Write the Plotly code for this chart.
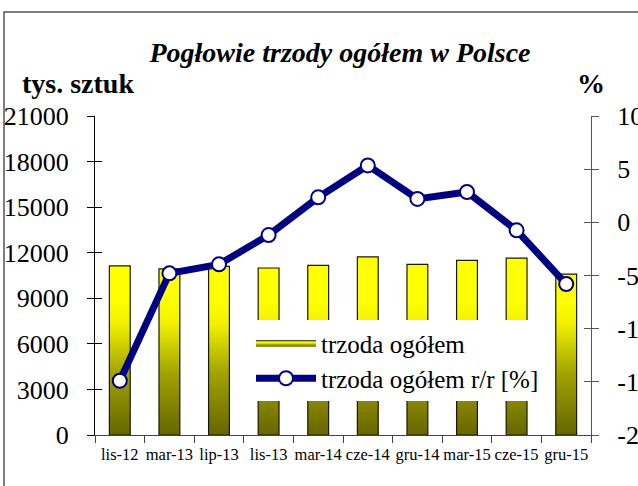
import plotly.graph_objects as go

# Pig herd size in Poland (thousand head) and year-on-year change (%)
categories = ["lis-12", "mar-13", "lip-13", "lis-13", "mar-14",
              "cze-14", "gru-14", "mar-15", "cze-15", "gru-15"]
herd_total = [11132, 10940, 11100, 10994, 11170, 11724, 11230, 11500, 11638, 10590]
herd_yoy = [-14.9, -4.8, -3.95, -1.2, 2.35, 5.35, 2.2, 2.85, -0.75, -5.8]

left_ticks = [0, 3000, 6000, 9000, 12000, 15000, 18000, 21000]
right_ticks = [-20, -15, -10, -5, 0, 5, 10]

SERIF = "'Liberation Serif', 'Times New Roman', Times, serif"
W, H = 638, 486
ML, MR, MT, MB = 95, 47, 116, 51
PW, PH = W - ML - MR, H - MT - MB


def px_x(p):
    return (p - ML) / PW


def px_y(p):
    return (H - MB - p) / PH


# Bars drawn as filled rectangles so they can carry a vertical gradient
half = 0.21
bx, by = [], []
for i, v in enumerate(herd_total):
    bx += [i - half, i + half, i + half, i - half, i - half, None]
    by += [0, 0, v, v, 0, None]

fig = go.Figure()

fig.add_trace(go.Scatter(
    x=bx, y=by, mode="lines", fill="toself",
    line=dict(color="#1a1a00", width=1.2),
    fillgradient=dict(
        type="vertical", start=0, stop=max(herd_total),
        colorscale=[[0, "#666600"], [0.35, "#a3a300"], [0.62, "#f0f000"], [0.75, "#ffff00"], [1, "#ffff00"]],
    ),
    name="trzoda ogółem", hoverinfo="skip",
    xaxis="x", yaxis="y",
))

fig.add_trace(go.Scatter(
    x=list(range(len(categories))), y=herd_yoy, mode="lines+markers",
    line=dict(color="#000080", width=7),
    marker=dict(symbol="circle", size=14, color="white", line=dict(color="#000080", width=2)),
    name="trzoda ogółem r/r [%]",
    xaxis="x", yaxis="y2",
))

# Empty helper traces so the overlay axes (labels / inner tick halves) get drawn
fig.add_trace(go.Scatter(x=[None], y=[None], xaxis="x3", yaxis="y3",
                         showlegend=False, hoverinfo="skip"))
fig.add_trace(go.Scatter(x=[None], y=[None], xaxis="x3", yaxis="y4",
                         showlegend=False, hoverinfo="skip"))

xr = [-0.5, len(categories) - 0.5]
tick_font = dict(family=SERIF, size=26, color="black")

fig.update_layout(
    width=W, height=H,
    margin=dict(l=ML, r=MR, t=MT, b=MB, autoexpand=False),
    paper_bgcolor="white", plot_bgcolor="white",
    font=dict(family=SERIF, color="black"),
    title=dict(
        text="<b><i>Pogłowie trzody ogółem w Polsce</i></b>",
        font=dict(family=SERIF, size=28, color="black"),
        x=340 / W, xanchor="center", xref="container",
        y=1 - 52 / H, yanchor="middle",
    ),
    xaxis=dict(
        range=xr, tickmode="array",
        tickvals=[i - 0.5 for i in range(len(categories) + 1)],
        ticktext=[""] * (len(categories) + 1),
        ticks="outside", ticklen=7, tickcolor="#444", tickwidth=1.2,
        showline=True, linecolor="#444", linewidth=1.2,
        showgrid=False, zeroline=False, automargin=False,
    ),
    xaxis3=dict(
        range=xr, overlaying="x", anchor="y", side="bottom",
        tickmode="array", tickvals=list(range(len(categories))), ticktext=categories,
        tickfont=dict(family=SERIF, size=16.5, color="black"),
        ticks="", ticklabelstandoff=7,
        showline=False, showgrid=False, zeroline=False, automargin=False,
    ),
    yaxis=dict(
        range=[0, 21000], tickmode="array", tickvals=left_ticks,
        ticktext=[str(v) for v in left_ticks],
        tickfont=tick_font, ticks="outside", ticklen=7, tickcolor="black", tickwidth=1.2,
        ticklabelstandoff=13,
        showline=True, linecolor="black", linewidth=1.2,
        showgrid=False, zeroline=False, automargin=False,
    ),
    yaxis3=dict(
        range=[0, 21000], overlaying="y", anchor="x", side="left",
        tickmode="array", tickvals=left_ticks, showticklabels=False,
        ticks="inside", ticklen=7, tickcolor="black", tickwidth=1.2,
        showline=False, showgrid=False, zeroline=False, automargin=False,
    ),
    yaxis2=dict(
        range=[-20, 10], overlaying="y", anchor="x", side="right",
        tickmode="array", tickvals=right_ticks, ticktext=[str(v) for v in right_ticks],
        tickfont=tick_font, ticks="outside", ticklen=7, tickcolor="#555", tickwidth=1.2,
        ticklabelstandoff=13,
        showline=True, linecolor="#555", linewidth=1.2,
        showgrid=False, zeroline=False, automargin=False,
    ),
    yaxis4=dict(
        range=[-20, 10], overlaying="y", anchor="x", side="right",
        tickmode="array", tickvals=right_ticks, showticklabels=False,
        ticks="inside", ticklen=7, tickcolor="#555", tickwidth=1.2,
        showline=False, showgrid=False, zeroline=False, automargin=False,
    ),
    legend=dict(
        x=px_x(251), y=px_y(320), xanchor="left", yanchor="top",
        bgcolor="white", borderwidth=0,
        font=dict(family=SERIF, size=25, color="black"),
        itemwidth=60, tracegroupgap=0,
    ),
    showlegend=True,
)

# Axis unit labels
fig.add_annotation(text="<b>tys. sztuk</b>", xref="paper", yref="paper",
                   x=px_x(20), y=px_y(83), xanchor="left", yanchor="middle",
                   showarrow=False, font=dict(family=SERIF, size=28, color="black"))
fig.add_annotation(text="<b>%</b>", xref="paper", yref="paper",
                   x=px_x(591), y=px_y(83), xanchor="center", yanchor="middle",
                   showarrow=False, font=dict(family=SERIF, size=28, color="black"))

# Outer frame around the chart area
fig.add_shape(type="rect", xref="paper", yref="paper",
              x0=px_x(4), x1=px_x(W + 20), y0=px_y(H + 20), y1=px_y(12),
              line=dict(color="#555", width=1.5), fillcolor="rgba(0,0,0,0)", layer="below")

fig.write_html("out.html")
